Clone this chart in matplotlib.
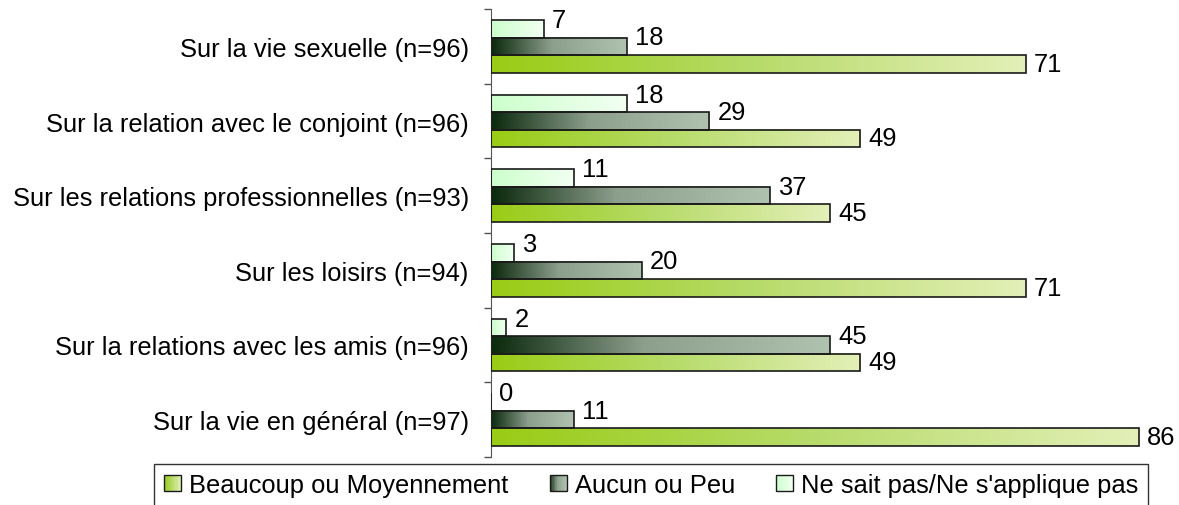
import numpy as np
import matplotlib
matplotlib.use("Agg")
import matplotlib.pyplot as plt
from matplotlib.colors import LinearSegmentedColormap
from matplotlib.legend_handler import HandlerBase
from matplotlib.patches import Rectangle

plt.rcParams['font.family'] = ['Liberation Sans', 'DejaVu Sans']

categories = [
    "Sur la vie sexuelle (n=96)",
    "Sur la relation avec le conjoint (n=96)",
    "Sur les relations professionnelles (n=93)",
    "Sur les loisirs (n=94)",
    "Sur la relations avec les amis (n=96)",
    "Sur la vie en général (n=97)",
]
series_names = ["Beaucoup ou Moyennement", "Aucun ou Peu", "Ne sait pas/Ne s'applique pas"]
beaucoup = [71, 49, 45, 71, 49, 86]
aucun = [18, 29, 37, 20, 45, 11]
ne_sait_pas = [7, 18, 11, 3, 2, 0]

cmap_green = LinearSegmentedColormap.from_list("g", [(0, (0.60, 0.80, 0.08)), (0.5, (0.72, 0.86, 0.42)), (1, (0.89, 0.94, 0.72))])
cmap_dark = LinearSegmentedColormap.from_list("d", [(0, (0.04, 0.16, 0.05)), (0.45, (0.55, 0.62, 0.55)), (1, (0.69, 0.76, 0.69))])
cmap_light = LinearSegmentedColormap.from_list("l", [(0, (0.80, 1.0, 0.80)), (1, (0.95, 1.0, 0.95))])

FS = 18.4
W, H = 1179, 506
fig = plt.figure(figsize=(W / 100, H / 100), dpi=100)
ax = fig.add_axes([491 / W, 1 - 458 / H, (1165 - 491) / W, (458 - 10) / H])

n = len(categories)
y = np.arange(n)
bh = 0.234
grad = np.linspace(0, 1, 256).reshape(1, -1)

series = [
    (ne_sait_pas, -bh, cmap_light, 6.5),
    (aucun, 0.0, cmap_dark, 6.5),
    (beaucoup, bh, cmap_green, 0.0),
]
for vals, off, cm, yoff in series:
    bars = ax.barh(y + off, vals, height=bh, fill=False, edgecolor="#1a1a1a", linewidth=1.2, zorder=3)
    for b, v in zip(bars, vals):
        x0, y0 = b.get_x(), b.get_y()
        w, h = b.get_width(), b.get_height()
        if w > 0:
            ax.imshow(grad, cmap=cm, aspect="auto", extent=(x0, x0 + w, y0 + h, y0),
                      interpolation="bilinear", zorder=2)
        ax.annotate(str(v), (x0 + w, y0 + h / 2), xytext=(6, yoff), textcoords="offset points",
                    ha="left", va="center", fontsize=FS, color="black", zorder=4)

ax.set_xlim(0, 89.5)
ax.set_ylim(n - 0.5, -0.5)
ax.set_yticks(y)
ax.set_yticklabels(categories, fontsize=FS)
ax.set_yticks(np.arange(n + 1) - 0.5, minor=True)
ax.tick_params(axis="y", which="major", length=0, pad=16)
ax.tick_params(axis="y", which="minor", length=5, width=1, color="#555555")
ax.set_xticks([])
for s in ["top", "right", "bottom"]:
    ax.spines[s].set_visible(False)
ax.spines["left"].set_color("#555555")


class GradHandler(HandlerBase):
    def __init__(self, cm):
        super().__init__()
        self.cm = cm

    def create_artists(self, legend, orig_handle, xdescent, ydescent, width, height, fontsize, trans):
        s = height * 0.95
        x0 = (width - s) / 2 - xdescent
        y0 = -ydescent + (height - s) / 2
        arts = []
        k = 12
        for i in range(k):
            arts.append(Rectangle((x0 + s * i / k, y0), s / k + 0.3, s, facecolor=self.cm((i + 0.5) / k),
                                  edgecolor="none", transform=trans))
        arts.append(Rectangle((x0, y0), s, s, facecolor="none", edgecolor="#1a1a1a", linewidth=1, transform=trans))
        return arts


handles = [Rectangle((0, 0), 1, 1) for _ in range(3)]
cmaps = [cmap_green, cmap_dark, cmap_light]
leg = fig.legend(handles, series_names, loc="upper center", bbox_to_anchor=(651 / W, 1 - 465 / H),
                 ncol=3, fontsize=FS, frameon=True, fancybox=False, edgecolor="black",
                 handler_map={h: GradHandler(c) for h, c in zip(handles, cmaps)},
                 handlelength=0.7, handletextpad=0.3, columnspacing=1.6, borderpad=0.35,
                 borderaxespad=0)
leg.get_frame().set_linewidth(1.0)

fig.savefig("out.png", dpi=100)
